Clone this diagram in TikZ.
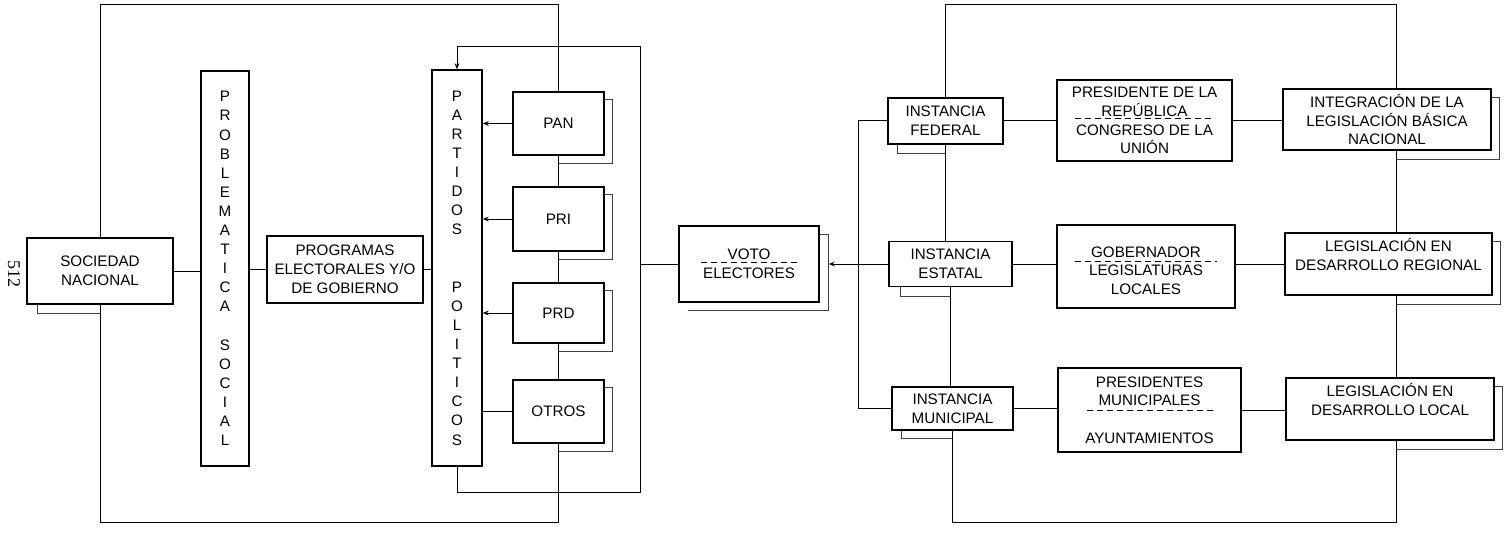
\documentclass[tikz,border=0pt]{standalone}
\usepackage{fontspec}
\setmainfont{Liberation Sans}
\newfontfamily\foliofont{Liberation Serif}
\usetikzlibrary{arrows.meta}
\newcommand{\cajafont}{\fontsize{7.6}{9.4}\selectfont}
\newcommand{\letrafont}{\fontsize{7.6}{9.55}\selectfont}

\begin{document}
\begin{tikzpicture}[
    x=0.5pt,
    y=-0.5pt,
    blockbox/.style={draw, line width=0.75pt, fill=white, inner sep=1pt, align=center, font=\cajafont},
    letterbox/.style={blockbox, font=\letrafont},
    link/.style={line width=0.5pt},
    arrowlink/.style={link, -{Stealth[length=3pt, width=2.4pt]}},
    shadowline/.style={line width=0.45pt, black!75},
    sepline/.style={line width=0.45pt, densely dashed}
  ]
  \useasboundingbox (0,0) rectangle (1509,535);
  %
  \coordinate (topline) at (0,5);
  \coordinate (botline) at (0,522);
  \coordinate (loopse) at (640,492);
  \coordinate (loopne) at (640,47);
  \coordinate (jx) at (858,0);
  \coordinate (rx) at (1396,0);

  \node[rotate=-90, font=\foliofont\fontsize{9}{9}\selectfont, inner sep=0pt] (folio) at (14,274) {512};

  %
  \node[blockbox, minimum width=73pt, minimum height=33pt] (soc) at (100,271) {SOCIEDAD\\NACIONAL};
  \node[letterbox, minimum width=24pt, minimum height=197.5pt] (prob) at (225,268.5)
    {P\\R\\O\\B\\L\\E\\M\\A\\T\\I\\C\\A\\[9.55pt]S\\O\\C\\I\\A\\L};
  \node[blockbox, minimum width=78pt, minimum height=33.5pt] (prog) at (345,269.5) {PROGRAMAS\\ELECTORALES Y/O\\DE GOBIERNO};
  \node[letterbox, minimum width=25pt, minimum height=198pt] (part) at (457,268)
    {P\\A\\R\\T\\I\\D\\O\\S\\[19.1pt]P\\O\\L\\I\\T\\I\\C\\O\\S};

  \node[blockbox, minimum width=45.5pt, minimum height=31.5pt] (pan) at (558.5,123.5) {PAN};
  \node[blockbox, minimum width=45.5pt, minimum height=32pt] (pri) at (558.5,219) {PRI};
  \node[blockbox, minimum width=45.5pt, minimum height=30pt] (prd) at (558.5,313) {PRD};
  \node[blockbox, minimum width=45.5pt, minimum height=31.5pt] (otros) at (558.5,411.5) {OTROS};

  \node[blockbox, minimum width=70pt, minimum height=38pt] (voto) at (749,264) {VOTO\\ELECTORES};

  %
  \node[blockbox, minimum width=57.5pt, minimum height=23pt] (fed) at (945.5,121) {INSTANCIA\\FEDERAL};
  \node[blockbox, minimum width=61.5pt, minimum height=22.5pt] (est) at (950.5,264) {INSTANCIA\\ESTATAL};
  \node[blockbox, minimum width=60.5pt, minimum height=21.5pt] (mun) at (952.5,408.5) {INSTANCIA\\MUNICIPAL};

  \node[blockbox, minimum width=87.5pt, minimum height=40.5pt] (pres) at (1144.5,120.5) {PRESIDENTE DE LA\\REPÚBLICA\\CONGRESO DE LA\\UNIÓN};
  \node[blockbox, minimum width=89pt, minimum height=41.5pt] (gob) at (1146,266.5) {\mbox{}\\GOBERNADOR\\LEGISLATURAS\\LOCALES};
  \node[blockbox, minimum width=91.5pt, minimum height=42pt] (presm) at (1149.5,410) {PRESIDENTES\\MUNICIPALES\\[9.4pt]AYUNTAMIENTOS};

  \node[blockbox, minimum width=104pt, minimum height=30.5pt] (integ) at (1387,119.5) {INTEGRACIÓN DE LA\\LEGISLACIÓN BÁSICA\\NACIONAL};
  \node[blockbox, minimum width=103.5pt, minimum height=31pt] (reg) at (1388.5,264) {LEGISLACIÓN EN\\DESARROLLO REGIONAL\\\mbox{}};
  \node[blockbox, minimum width=104pt, minimum height=31pt] (loc) at (1390,409) {LEGISLACIÓN EN\\DESARROLLO LOCAL\\\mbox{}};

  %
  \draw[sepline] ([xshift=-24pt,yshift=1pt]voto.center) -- ([xshift=24pt,yshift=1pt]voto.center);
  \draw[sepline] ([xshift=-35pt,yshift=1pt]pres.center) -- ([xshift=35pt,yshift=1pt]pres.center);
  \draw[sepline] ([xshift=-35.5pt,yshift=2.75pt]gob.center) -- ([xshift=35.5pt,yshift=2.75pt]gob.center);
  \draw[sepline] ([xshift=-31.5pt]presm.center) -- ([xshift=31.5pt]presm.center);

  %
  \draw[shadowline] ([xshift=5.5pt]soc.south west) |- ([yshift=-4.5pt]soc.south);
  \foreach \p in {pan,pri,prd,otros}
    \draw[shadowline] ([yshift=-4pt]\p.north east) -- ++(8,0) |- ([yshift=-4pt]\p.south);
  \draw[shadowline] ([yshift=-4.5pt]voto.north east) -- ++(9,0) |- ([xshift=5pt,yshift=-4pt]voto.south west);
  \draw[shadowline] ([xshift=5pt]fed.south west) |- ([yshift=-4.5pt]fed.south);
  \draw[shadowline] ([xshift=6pt]est.south west) |- ([yshift=-4.5pt]est.south);
  \draw[shadowline] ([xshift=5pt]mun.south west) |- ([yshift=-4pt]mun.south);
  \foreach \p in {integ,reg,loc}
    \draw[shadowline] ([yshift=-4.5pt]\p.north east) -- ++(8,0) |- ([yshift=-4.5pt]\p.south -| rx);

  %
  \draw[link] (soc.east) -- (soc.east -| prob.west);
  \draw[link] (prog.west -| prob.east) -- (prog.west);
  \draw[link] (prog.east) -- (prog.east -| part.west);
  \draw[link] (soc.north) |- (pan.north |- topline) -- (pan.north);
  \draw[link] (soc.south) |- (otros.south |- botline) -- (otros.south);
  \draw[link] (pan.south) -- (pri.north);
  \draw[link] (pri.south) -- (prd.north);
  \draw[link] (prd.south) -- (otros.north);
  \draw[arrowlink] (pan.west) -- (pan.west -| part.east);
  \draw[arrowlink] (pri.west) -- (pri.west -| part.east);
  \draw[arrowlink] (prd.west) -- (prd.west -| part.east);
  \draw[link] (otros.west) -- (otros.west -| part.east);
  \draw[arrowlink] (part.south) |- (loopse) -- (loopne) -| (part.north);
  \draw[link] (voto.west -| loopne) -- (voto.west);

  %
  \draw[arrowlink] (est.west) -- ([xshift=4.5pt]voto.east);
  \draw[link] (fed.west) -- (fed.west -| jx) -- (mun.west -| jx) -- (mun.west);
  \draw[link] (fed.south) -- (fed.south |- est.north);
  \draw[link] (est.south) -- (est.south |- mun.north);
  \draw[link] (fed.north) |- (rx |- topline) -- (integ.north -| rx);
  \draw[link] (mun.south) |- (rx |- botline) -- (loc.south -| rx);
  \draw[link] (integ.south -| rx) -- (reg.north -| rx);
  \draw[link] (reg.south -| rx) -- (loc.north -| rx);
  \draw[link] (fed.east) -- (fed.east -| pres.west);
  \draw[link] (pres.east) -- (pres.east -| integ.west);
  \draw[link] (est.east) -- (est.east -| gob.west);
  \draw[link] (reg.west -| gob.east) -- (reg.west);
  \draw[link] (mun.east) -- (mun.east -| presm.west);
  \draw[link] (presm.east) -- (presm.east -| loc.west);
\end{tikzpicture}
\end{document}
